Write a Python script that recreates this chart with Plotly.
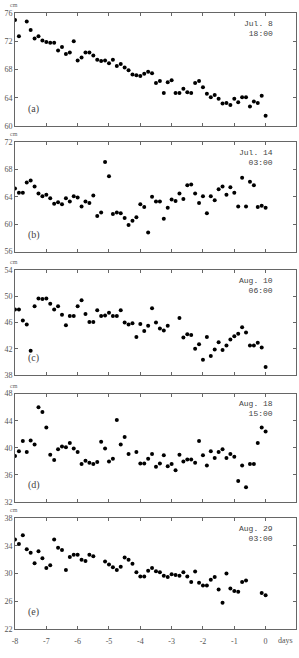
import plotly.graph_objects as go

# time axis: 3-hourly samples from -8 days to 0 days
step_days = 3 / 24
idx_count = 65
times = [-8 + i * step_days for i in range(idx_count)]

N = None
vals_a = [75.0, 72.7, N, 74.8, 73.6, 72.4, 72.7, 72.1, 71.9, 71.8, 71.8, 70.7, 71.2, 70.2, 70.4, 72.0,
          69.3, 69.7, 70.4, 70.4, 70.0, 69.4, 69.2, 69.3, 68.9, 69.4, 68.5, 68.8, 68.3, 67.9, 67.3, 67.2,
          67.1, 67.4, 67.7, 67.5, 66.1, 66.4, 64.7, 66.2, 66.5, 64.7, 64.7, 65.3, 64.8, 64.7, 66.1, 66.4,
          65.5, 64.6, 64.1, 64.4, 63.9, 63.2, 63.3, 63.0, 63.9, 63.4, 64.1, 64.1, 62.8, 63.5, 63.3, 64.3, 61.5]
vals_b = [65.2, 64.6, 64.6, 66.1, 66.4, 65.5, 64.5, 64.1, 64.3, 63.8, 63.0, 63.2, 62.9, 63.8, 63.3, 64.1,
          63.9, 62.6, 63.3, 63.1, 64.2, 61.2, 61.7, 69.1, 67.0, 61.5, 61.7, 61.6, 60.9, 59.9, 60.5, 61.0,
          62.9, 62.5, 58.8, 64.0, 63.3, 63.3, 60.8, 62.4, 63.6, 63.4, 64.5, 63.7, 65.7, 65.8, 64.5, 63.1,
          64.1, 61.6, 64.1, 63.5, 65.1, 65.5, 64.3, 65.4, 64.6, 62.6, 66.8, 62.6, 66.2, 65.7, 62.5, 62.7, 62.4]
vals_c = [48.0, 48.0, 46.3, 45.7, 41.7, 48.5, 49.7, 49.6, 49.7, 48.9, 48.0, 48.5, 47.2, 45.6, 47.0, 47.0,
          48.5, 49.4, 47.3, 46.1, 46.1, 47.9, 47.0, 47.1, 47.5, 47.0, 47.0, 47.9, 46.0, 45.7, 45.9, 43.8,
          45.8, 44.7, 45.5, 48.2, 46.0, 45.1, 44.8, 45.5, N, N, 46.7, 43.7, 44.2, 44.1, 42.0, 42.7,
          40.3, 43.8, 40.9, 41.9, 43.0, 41.8, 42.5, 43.4, 43.9, 44.3, 45.3, 44.5, 42.5, 42.5, 42.9, 42.2, 39.2]
vals_d = [38.8, 39.5, 41.0, 39.4, 41.1, 40.5, 46.0, 45.3, 43.0, 39.0, 38.2, 39.8, 40.2, 40.1, 40.7, 39.9,
          39.4, 37.6, 38.1, 37.8, 37.6, 37.9, 40.9, 39.9, 38.0, 38.4, 44.1, 40.5, 41.6, 39.1, N, 39.4,
          37.7, 37.7, 38.4, 39.1, 37.2, 37.7, 38.9, 37.3, 37.6, 36.7, 39.0, 38.0, 38.3, 38.3, 37.8, 41.0,
          38.9, 37.4, 39.5, 38.5, 39.4, 39.8, 38.5, 39.1, 38.7, 35.1, 37.4, 34.2, 37.6, 37.6, 40.7, 43.0, 42.4]
vals_e = [34.9, 34.25, 35.5, 33.5, 33.0, 31.5, 33.2, 32.2, 30.8, 31.2, 34.9, 33.7, 33.4, 30.5, 32.4, 32.7,
          32.7, 32.0, 31.8, 32.7, 32.5, N, N, 31.75, 31.3, 30.9, 30.5, 31.0, 32.3, 32.0, 31.4, 30.2,
          29.6, 29.6, 30.4, 30.8, 30.35, 30.2, 29.7, 29.5, 29.9, 29.8, 29.7, 30.2, 29.6, 28.8, 30.3, 28.7,
          28.3, 28.3, 29.1, 29.5, 27.7, 25.8, 30.0, 27.85, 27.5, 27.4, 28.8, 29.0, N, N, N, 27.2, 26.9]

series = [vals_a, vals_b, vals_c, vals_d, vals_e]
panel_labels = ["(a)", "(b)", "(c)", "(d)", "(e)"]
date_labels = ["Jul. 8<br>18:00", "Jul. 14<br>03:00", "Aug. 10<br>06:00", "Aug. 18<br>15:00", "Aug. 29<br>03:00"]
y_ranges = [(60, 76), (56, 72), (38, 54), (32, 48), (22, 38)]
x_tick_vals = [-8, -7, -6, -5, -4, -3, -2, -1, 0]
x_tick_text = ["-8", "-7", "-6", "-5", "-4", "-3", "-2", "-1", "0"]

W, H = 299, 658
# panel pixel extents (top, bottom)
panel_px = [(9, 124), (140, 251), (270, 376), (395, 505), (521, 634)]

fig = go.Figure()
grey = "#666666"
tickfont = dict(family="Liberation Serif, DejaVu Serif, serif", size=8, color="#555555")

for k in range(5):
    n = k + 1
    xa = "x" if n == 1 else f"x{n}"
    ya = "y" if n == 1 else f"y{n}"
    fig.add_trace(go.Scatter(x=times, y=series[k], mode="markers",
                             marker=dict(size=4, color="black"),
                             xaxis=xa, yaxis=ya, showlegend=False, hoverinfo="skip"))
    top, bot = panel_px[k]
    dom = [1 - bot / H, 1 - top / H]
    last = (k == 4)
    fig.layout[f"xaxis{'' if n == 1 else n}"] = dict(
        domain=[0, 1], range=[-8, 0.97], anchor=ya,
        tickvals=x_tick_vals, ticktext=x_tick_text, showticklabels=last,
        ticks="inside", ticklen=3, tickcolor=grey, tickwidth=1, ticklabelstandoff=4,
        showline=True, linecolor=grey, linewidth=1, mirror="ticks",
        showgrid=False, zeroline=False, tickfont=tickfont)
    y0, y1 = y_ranges[k]
    fig.layout[f"yaxis{'' if n == 1 else n}"] = dict(
        domain=dom, range=[y0, y1], anchor=xa,
        tickvals=list(range(y0, y1 + 1, 4)),
        ticks="inside", ticklen=3, tickcolor=grey, tickwidth=1,
        showline=True, linecolor=grey, linewidth=1, mirror="ticks",
        showgrid=False, zeroline=False, tickfont=tickfont)
    # cm unit label
    fig.add_annotation(text="cm", xref=f"{xa} domain", yref=f"{ya} domain",
                       x=-0.005, y=1, xanchor="center", yanchor="bottom", yshift=3,
                       showarrow=False, font=dict(family="Liberation Serif, serif", size=6, color="#666666"))
    # panel label
    fig.add_annotation(text=panel_labels[k], xref=f"{xa} domain", yref=f"{ya} domain",
                       x=0.04, y=0.08, xanchor="left", yanchor="bottom",
                       showarrow=False, font=dict(family="Liberation Serif, serif", size=10, color="#444444"))
    # date label
    fig.add_annotation(text=date_labels[k], xref=f"{xa} domain", yref=f"{ya} domain",
                       x=0.925, y=0.965, xanchor="right", yanchor="top", align="right",
                       showarrow=False, font=dict(family="Liberation Mono, monospace", size=8, color="#444444"))

fig.add_annotation(text="days", xref="x5 domain", yref="y5 domain",
                   x=0.963, y=0, xanchor="center", yanchor="top", yshift=-5,
                   showarrow=False, font=dict(family="Liberation Serif, serif", size=8, color="#555555"))

fig.update_layout(width=W, height=H, margin=dict(l=15, r=3, t=0, b=0),
                  plot_bgcolor="white", paper_bgcolor="white")

fig.write_html("out.html")
